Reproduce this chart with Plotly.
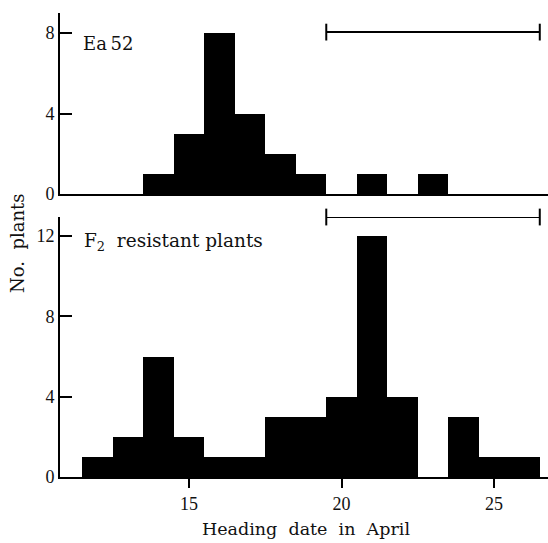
import plotly.graph_objects as go

# ---- data ----
top_days = [14, 15, 16, 17, 18, 19, 20, 21, 22, 23]
top_counts = [1, 3, 8, 4, 2, 1, 0, 1, 0, 1]
bottom_days = [12, 13, 14, 15, 16, 17, 18, 19, 20, 21, 22, 23, 24, 25, 26]
bottom_counts = [1, 2, 6, 2, 1, 1, 3, 3, 4, 12, 4, 0, 3, 1, 1]
range_days = [19.5, 26.5]
top_range_level = [8.05, 8.05]
bottom_range_level = [12.95, 12.95]
x_ticks = [15, 20, 25]
top_y_ticks = [0, 4, 8]
bottom_y_ticks = [0, 4, 8, 12]

SERIF = "DejaVu Serif"
INK = "#000"
TICKFONT = dict(family="Liberation Serif", size=18, color="#111")

fig = go.Figure()
fig.add_trace(go.Bar(x=top_days, y=top_counts, width=1, marker=dict(color=INK, line=dict(width=0)),
                     xaxis="x", yaxis="y", showlegend=False))
fig.add_trace(go.Bar(x=bottom_days, y=bottom_counts, width=1, marker=dict(color=INK, line=dict(width=0)),
                     xaxis="x2", yaxis="y2", showlegend=False))
fig.add_trace(go.Scatter(x=range_days, y=top_range_level, mode="lines+markers",
                         line=dict(color=INK, width=2),
                         marker=dict(symbol="line-ns-open", size=12, line=dict(color=INK, width=2)),
                         xaxis="x", yaxis="y", showlegend=False, cliponaxis=False))
fig.add_trace(go.Scatter(x=range_days, y=bottom_range_level, mode="lines+markers",
                         line=dict(color=INK, width=2),
                         marker=dict(symbol="line-ns-open", size=12, line=dict(color=INK, width=2)),
                         xaxis="x2", yaxis="y2", showlegend=False, cliponaxis=False))

xr = [10.77, 26.77]
common_x = dict(range=xr, showgrid=False, zeroline=False, showline=True, linecolor=INK, linewidth=2)
fig.update_layout(
    width=548, height=543,
    margin=dict(l=60, r=0, t=13, b=66),
    paper_bgcolor="white", plot_bgcolor="white",
    bargap=0,
    xaxis=dict(**common_x, domain=[0, 1], anchor="y", showticklabels=False, ticks=""),
    yaxis=dict(domain=[0.61, 1.0], range=[0, 9.0], anchor="x", showgrid=False, zeroline=False,
               showline=True, linecolor=INK, linewidth=2, tickvals=top_y_ticks,
               ticks="inside", ticklen=12, tickwidth=2, tickcolor=INK, tickfont=TICKFONT),
    xaxis2=dict(**common_x, domain=[0, 1], anchor="y2", tickvals=x_ticks, ticks="outside",
                ticklen=9, tickwidth=2, tickcolor=INK, tickfont=TICKFONT),
    yaxis2=dict(domain=[0, 0.5603], range=[0, 12.95], anchor="x2", showgrid=False, zeroline=False,
                showline=True, linecolor=INK, linewidth=2, tickvals=bottom_y_ticks,
                ticks="inside", ticklen=12, tickwidth=2, tickcolor=INK, tickfont=TICKFONT),
    annotations=[
        dict(text="Ea\u200952", x=11.45, y=7.5, xref="x", yref="y", xanchor="left", yanchor="middle",
             showarrow=False, font=dict(family=SERIF, size=18, color="#111")),
        dict(text="F<sub>2</sub>\u00a0\u00a0resistant plants", x=11.5, y=11.7, xref="x2", yref="y2",
             xanchor="left", yanchor="middle", showarrow=False,
             font=dict(family=SERIF, size=18.5, color="#111")),
        dict(text="Heading\u00a0 date\u00a0 in\u00a0 April", x=(306 - 60) / 488, y=(477 - 529) / 464,
             xref="paper", yref="paper",
             xanchor="center", yanchor="middle", showarrow=False,
             font=dict(family=SERIF, size=17.5, color="#111")),
        dict(text="No.\u00a0 plants", x=(17 - 60) / 488, y=(477 - 243) / 464, xref="paper", yref="paper",
             xanchor="center", yanchor="middle", textangle=-90, showarrow=False,
             font=dict(family=SERIF, size=18, color="#111")),
    ],
)

fig.write_html("out.html", config={"displayModeBar": False},
               post_script="document.body.style.margin='0';document.body.style.overflow='hidden';")
